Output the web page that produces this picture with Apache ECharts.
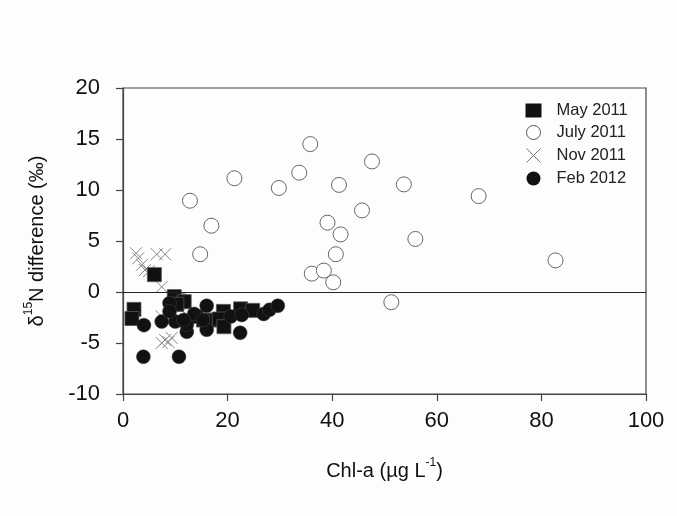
<!DOCTYPE html>
<html>
<head>
<meta charset="utf-8">
<script src="https://cdn.jsdelivr.net/npm/echarts@6/dist/echarts.min.js"></script>
<style>
  html, body { margin: 0; padding: 0; background: #fdfdfb; }
  #chart { width: 677px; height: 516px; }
</style>
</head>
<body>
<div id="chart"></div>
<script>
// x = Chl-a (ug/L), y = d15N difference (per mil)
var may2011 = [
  [6.0, 1.7], [9.8, -0.45], [2.1, -1.7], [1.7, -2.6], [11.7, -0.95],
  [15.4, -2.75], [17.8, -2.75], [19.2, -1.9], [18.4, -2.65], [19.3, -3.4],
  [22.5, -1.65], [24.8, -1.8], [10.3, -1.2], [14.0, -2.4]
];
var july2011 = [
  [12.8, 8.95], [21.3, 11.15], [16.9, 6.5], [14.75, 3.7], [29.8, 10.2],
  [33.7, 11.7], [35.8, 14.5], [41.3, 10.5], [47.6, 12.8], [45.7, 8.0],
  [39.1, 6.8], [41.6, 5.65], [40.7, 3.7], [36.1, 1.8], [38.4, 2.1],
  [40.2, 0.95], [51.3, -1.0], [53.7, 10.55], [68.0, 9.4], [55.9, 5.2],
  [82.7, 3.1], [11.5, -0.9], [10.9, -2.6], [22.6, -1.9]
];
var nov2011 = [
  [2.5, 3.8], [2.9, 3.3], [6.45, 3.7], [8.05, 3.7], [3.6, 2.65],
  [4.2, 2.15], [5.0, 2.05], [7.4, 0.5], [7.4, -2.4], [8.05, -4.7],
  [7.4, -5.0], [9.3, -4.5], [8.7, -4.9]
];
var feb2012 = [
  [4.0, -3.25], [3.9, -6.35], [10.7, -6.35], [7.4, -2.9], [10.0, -2.9],
  [8.9, -1.1], [8.9, -1.9], [12.2, -3.9], [12.2, -3.2], [13.6, -2.15],
  [16.0, -1.35], [16.0, -3.7], [11.6, -2.75], [20.6, -2.4], [22.4, -4.0],
  [22.7, -2.25], [26.9, -2.15], [28.0, -1.75], [29.6, -1.35], [15.3, -2.75]
];
var legendNames = ['May 2011', 'July 2011', 'Nov 2011', 'Feb 2012'];
var xTicks = [0, 20, 40, 60, 80, 100];
var yTicks = [-10, -5, 0, 5, 10, 15, 20];

var crossPath = 'path://M0,0L10,10M10,0L0,10';
var font = 'Liberation Sans, Arial, sans-serif';

var chart = echarts.init(document.getElementById('chart'));
chart.setOption({
  backgroundColor: '#fdfdfb',
  animation: false,
  grid: {
    left: 123, right: 31, top: 88, bottom: 122,
    show: true, borderColor: '#444', borderWidth: 1.2, backgroundColor: 'transparent'
  },
  legend: {
    orient: 'vertical',
    left: 519, top: 97,
    itemWidth: 16, itemHeight: 14, itemGap: 5,
    textStyle: { fontFamily: font, fontSize: 16.5, color: '#222', padding: [0, 0, 0, 10] },
    data: [
      { name: legendNames[0], icon: 'rect', itemStyle: { color: '#111', borderWidth: 0, opacity: 1 } },
      { name: legendNames[1], icon: 'circle', itemStyle: { color: '#fff', borderColor: '#555', borderWidth: 1, opacity: 1 } },
      { name: legendNames[2], icon: crossPath, itemStyle: { color: 'none', borderColor: '#777', borderWidth: 1, opacity: 1 } },
      { name: legendNames[3], icon: 'circle', itemStyle: { color: '#111', borderWidth: 0, opacity: 1 } }
    ]
  },
  xAxis: {
    type: 'value', min: xTicks[0], max: xTicks[xTicks.length - 1], interval: 20,
    splitLine: { show: false },
    axisLine: { onZero: false, lineStyle: { color: '#444', width: 1.2 } },
    axisTick: { length: 7, inside: false, lineStyle: { color: '#444', width: 1.2 } },
    axisLabel: { fontFamily: font, fontSize: 22, color: '#111', margin: 16 },
    name: '{t|Chl-a (\u00b5g L}{s|-1}{t|)}',
    nameLocation: 'middle', nameGap: 63,
    nameTextStyle: {
      rich: {
        t: { fontFamily: font, fontSize: 20, color: '#111', verticalAlign: 'bottom', lineHeight: 24 },
        s: { fontFamily: font, fontSize: 12, color: '#111', verticalAlign: 'top', lineHeight: 24 }
      }
    }
  },
  yAxis: {
    type: 'value', min: yTicks[0], max: yTicks[yTicks.length - 1], interval: 5,
    splitLine: { show: false },
    axisLine: { onZero: false, lineStyle: { color: '#444', width: 1.2 } },
    axisTick: { length: 7, inside: false, lineStyle: { color: '#444', width: 1.2 } },
    axisLabel: { fontFamily: font, fontSize: 22, color: '#111', margin: 23 },
    name: '{t|\u03b4}{s|15}{t|N difference (\u2030)}',
    nameLocation: 'middle', nameGap: 76, nameRotate: 90,
    nameTextStyle: {
      rich: {
        t: { fontFamily: font, fontSize: 20, color: '#111', verticalAlign: 'bottom', lineHeight: 24 },
        s: { fontFamily: font, fontSize: 12, color: '#111', verticalAlign: 'top', lineHeight: 24 }
      }
    }
  },
  series: [
    {
      name: legendNames[1], type: 'scatter', data: july2011, z: 2,
      symbol: 'circle', symbolSize: 15,
      itemStyle: { color: '#fff', borderColor: '#666', borderWidth: 1, opacity: 1 },
      markLine: {
        silent: true, symbol: 'none', label: { show: false },
        lineStyle: { color: '#222', width: 1.2, type: 'solid' },
        data: [{ yAxis: 0 }]
      }
    },
    {
      name: legendNames[2], type: 'scatter', data: nov2011, z: 3,
      symbol: crossPath, symbolSize: 12,
      itemStyle: { color: 'none', borderColor: '#888', borderWidth: 1, opacity: 1 }
    },
    {
      name: legendNames[0], type: 'scatter', data: may2011, z: 4,
      symbol: 'rect', symbolSize: 14,
      itemStyle: { color: '#111', borderColor: '#555', borderWidth: 0.8, opacity: 1 }
    },
    {
      name: legendNames[3], type: 'scatter', data: feb2012, z: 5,
      symbol: 'circle', symbolSize: 14,
      itemStyle: { color: '#111', borderColor: '#444', borderWidth: 0.5, opacity: 1 }
    }
  ]
});
</script>
</body>
</html>
